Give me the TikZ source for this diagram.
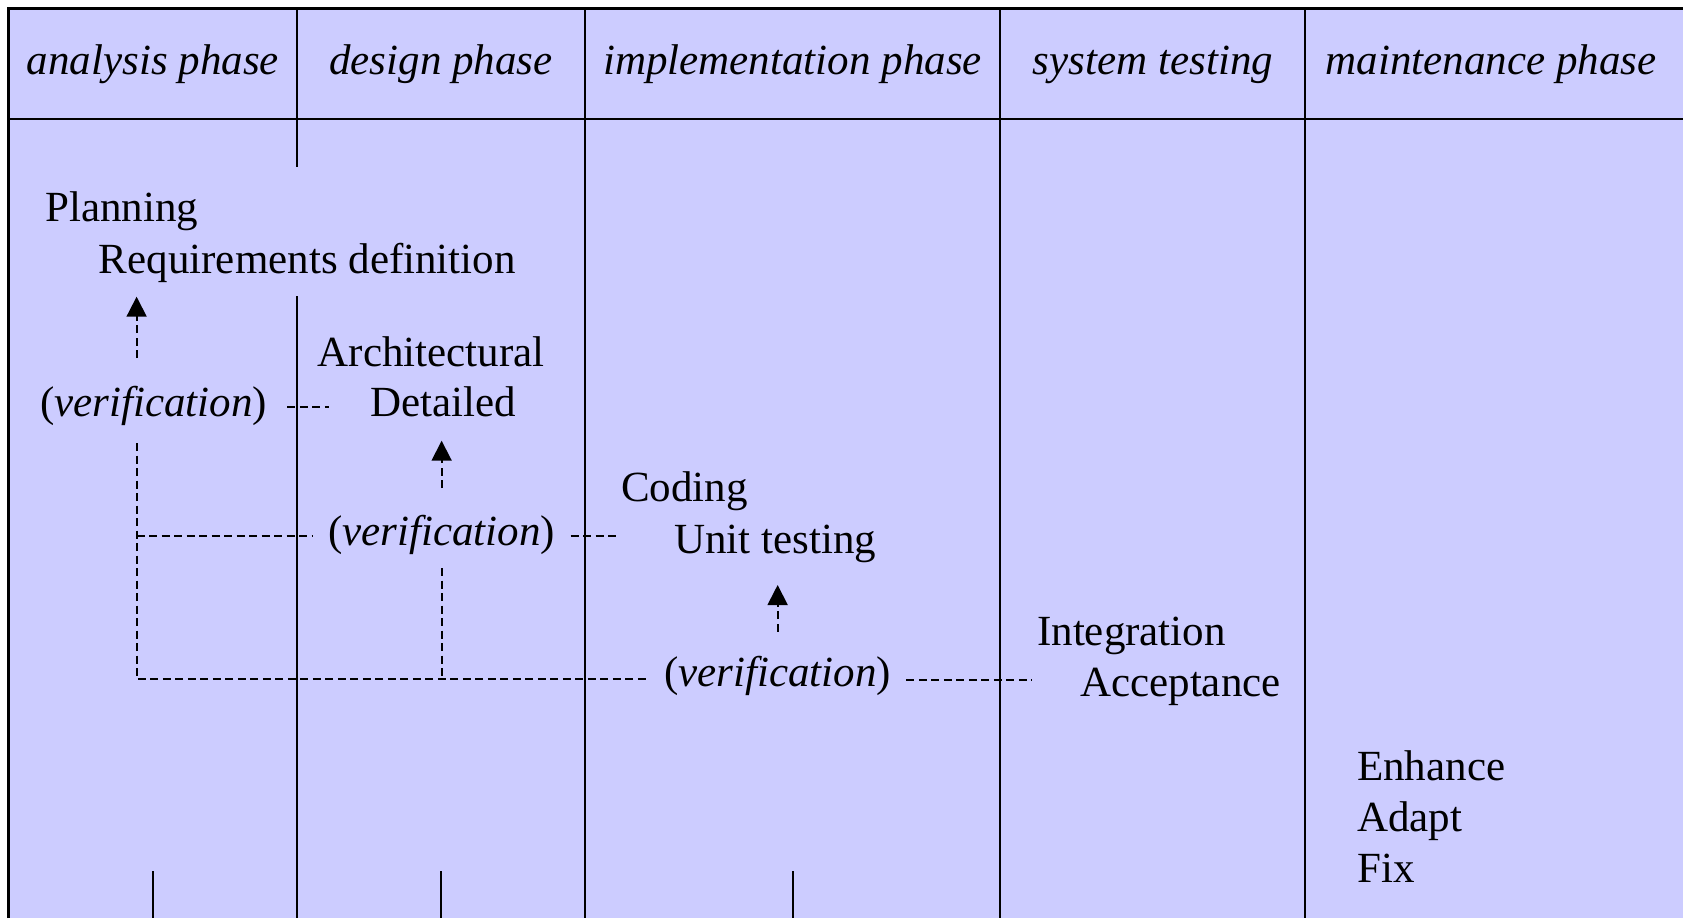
\documentclass[tikz,border=0pt]{standalone}
\usepackage{fontspec}
\setmainfont{Liberation Serif}
\usetikzlibrary{arrows.meta,calc}
\definecolor{phasefill}{RGB}{204,204,255}
\begin{document}
\begin{tikzpicture}[x=1pt,y=-1pt,
  rule/.style={line width=2.3pt,black},
  finerule/.style={line width=1.2pt,black},
  tick/.style={line width=1.6pt,black},
  txt/.style={inner sep=0pt,anchor=base west,font=\fontsize{43pt}{51pt}\selectfont},
  head/.style={inner sep=0pt,anchor=base,font=\fontsize{43pt}{51pt}\selectfont\itshape},
  verif/.style={line width=1.8pt,dash pattern=on 8pt off 4.5pt},
  uparrow/.style={verif,-{Triangle[width=20pt,length=20pt]}},
]
\useasboundingbox (0,0) rectangle (1683,918);

% table background and frame
\fill[phasefill] (8.6,8.6) rectangle (1683,918);
\draw[rule] (8.6,918) -- (8.6,8.6) -- (1683,8.6);
\draw[rule] (8.6,119) -- (1683,119);

% column separators
\draw[rule] (297,8.6) -- (297,167);
\draw[rule] (297,296) -- (297,918);
\draw[rule] (585,8.6) -- (585,918);
\draw[rule] (1000,8.6) -- (1000,918);
\draw[rule] (1305,8.6) -- (1305,583);
\draw[finerule] (1305,583) -- (1305,728);
\draw[rule] (1305,728) -- (1305,918);

% short marks at the foot of the first three columns
\draw[tick] (153,871) -- (153,918);
\draw[tick] (441,871) -- (441,918);
\draw[tick] (793,871) -- (793,918);

% phase headings
\node[head] (h1) at (153,74.5) {analysis phase};
\node[head] (h2) at (441,74.5) {design phase};
\node[head] (h3) at (792.5,74.5) {implementation phase};
\node[head] (h4) at (1153,74.5) {system testing};
\node[head] (h5) at (1491,74.5) {maintenance phase};

% activities
\node[txt] (plan) at (45,221.7) {Planning};
\node[txt] (req) at (98.7,273) {Requirements definition};
\node[txt] (arch) at (317.6,366) {Architectural};
\node[txt] (det) at (370.5,416.7) {Detailed};
\node[txt] (code) at (621,501.7) {Coding};
\node[txt] (unit) at (674,553) {Unit testing};
\node[txt] (integ) at (1037,645.7) {Integration};
\node[txt] (acc) at (1080,696.7) {Acceptance};
\node[txt] (enh) at (1357,780) {Enhance};
\node[txt] (adapt) at (1357,831) {Adapt};
\node[txt] (fix) at (1357,882.7) {Fix};

% verification steps
\node[txt] (v1) at (40,416.7) {(\textit{verification})};
\node[txt] (v2) at (328,545) {(\textit{verification})};
\node[txt] (v3) at (664,686.7) {(\textit{verification})};

% verification arrows back to the preceding activity
\draw[uparrow] ($(v1.base west)+(96.6pt,58.7pt)$) -- ($(v1.base west |- req.base)+(96.6pt,-23.7pt)$);
\draw[uparrow] ($(v2.base)+(0pt,57pt)$) -- ($(v2.base |- det.base)+(0pt,-24pt)$);
\draw[uparrow] ($(v3.base)+(0pt,55pt)$) -- ($(v3.base |- unit.base)+(0pt,-32pt)$);

% verification links to the following activity
\draw[verif] ($(v1.base east)+(20pt,9.7pt)$) -- ($(det.base west |- v1.base)+(-41.5pt,9.7pt)$);
\draw[verif] ($(v2.base east)+(15.4pt,9pt)$) -- ($(code.base west |- v2.base)+(-5pt,9pt)$);
\draw[verif] ($(v3.base east)+(15pt,6.7pt)$) -- ($(integ.base west |- v3.base)+(-5.3pt,6.7pt)$);

% trunk joining the verification steps
\coordinate (tc) at (136.6,679.3);
\draw[verif] ($(v1.base west)+(96.6pt,-26.3pt)$) -- (tc) -- ($(v3.base west)+(-15.3pt,7.4pt)$);
\draw[verif] ($(tc)+(0pt,143.6pt)$) -- ($(v2.base west)+(-15.5pt,9.3pt)$);
\draw[verif] ($(v2.base)+(0pt,-23pt)$) -- (v2.base |- tc);
\end{tikzpicture}
\end{document}
